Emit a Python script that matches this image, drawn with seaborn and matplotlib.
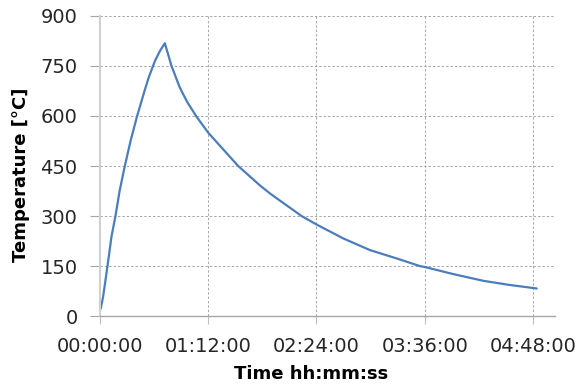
import matplotlib.pyplot as plt
import matplotlib.ticker as mticker
import seaborn as sns
import pandas as pd

# ── Data ───────────────────────────────────────────────────────────────────
time_s = [0, 40, 133, 266, 359, 466, 625, 798, 998, 1237, 1490, 1796, 1950,
          2200, 2400, 2594, 2860, 3192, 3484, 3857, 4322, 4920, 5519, 6384,
          6783, 7115, 8048, 8686, 9708, 10773, 11838, 12768, 12980, 14100,
          15290, 16300, 17420]
temp_c = [20, 23, 58, 128, 178, 238, 300, 378, 450, 528, 600, 678, 715,
          765, 795, 818, 750, 685, 642, 598, 550, 500, 450, 392,
          368, 350, 300, 273, 233, 198, 173, 150, 147, 126,
          106, 94, 83]
x_ticks = [0, 4320, 8640, 12960, 17280]
y_ticks = [0, 150, 300, 450, 600, 750, 900]

LINE_COLOR = '#4a7ebb'
GRID_COLOR = '#a6a6a6'
TEXT_COLOR = '#262626'

sns.set_style('white')
plt.rcParams['font.family'] = ['DejaVu Sans']

df = pd.DataFrame({'t': time_s, 'T': temp_c})

fig = plt.figure(figsize=(5.8, 3.87), dpi=100)
ax = fig.add_axes([0.172, 0.183, 0.785, 0.776])

sns.lineplot(data=df, x='t', y='T', ax=ax, color=LINE_COLOR, linewidth=1.6)


def hms(x, pos):
    x = int(round(x))
    return f'{x // 3600:02d}:{(x % 3600) // 60:02d}:{x % 60:02d}'


ax.set_xlim(0, 18150)
ax.set_ylim(0, 900)
ax.set_xticks(x_ticks)
ax.set_yticks(y_ticks)
ax.xaxis.set_major_formatter(mticker.FuncFormatter(hms))

ax.grid(True, linestyle=(0, (2.5, 2)), color=GRID_COLOR, linewidth=0.7)
ax.set_axisbelow(True)

for side in ['top', 'right']:
    ax.spines[side].set_visible(False)
ax.spines['left'].set_color('#d0d0d0')
ax.spines['left'].set_linewidth(1.5)
ax.spines['bottom'].set_color('#a6a6a6')
ax.spines['bottom'].set_linewidth(1.0)

ax.tick_params(axis='x', direction='out', length=6, width=0.8, color='#bfbfbf',
               labelsize=14, labelcolor=TEXT_COLOR, pad=9, bottom=True)
ax.tick_params(axis='y', direction='out', length=7, width=0.8, color='#a6a6a6',
               labelsize=14, labelcolor=TEXT_COLOR, pad=9, left=True)

ax.set_xlabel('Time hh:mm:ss', fontsize=13, fontweight='bold', color='black')
ax.set_ylabel('Temperature [°C]', fontsize=13, fontweight='bold', color='black')
ax.xaxis.set_label_coords(0.464, -0.163)
ax.yaxis.set_label_coords(-0.154, 0.47)

fig.savefig('out.png', dpi=100)
